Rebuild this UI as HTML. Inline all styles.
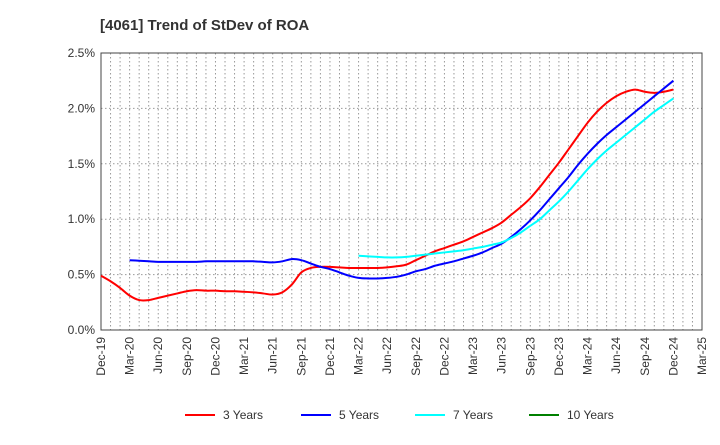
<!DOCTYPE html>
<html><head><meta charset="utf-8"><style>
body{margin:0;background:#fff;font-family:"Liberation Sans",sans-serif}
svg text{font-family:"Liberation Sans",sans-serif}
</style></head><body>
<svg id="chart" width="720" height="440">
<text x="100" y="30" font-size="15" font-weight="bold" fill="#333">[4061]  Trend of StDev of ROA</text>
<g id="grid"></g><g id="axes"></g><g id="series"></g><g id="legend"></g>
</svg>
<script>
const xLabels=["Dec-19","Mar-20","Jun-20","Sep-20","Dec-20","Mar-21","Jun-21","Sep-21","Dec-21","Mar-22","Jun-22","Sep-22","Dec-22","Mar-23","Jun-23","Sep-23","Dec-23","Mar-24","Jun-24","Sep-24","Dec-24","Mar-25"];
const yTicks=[0,0.5,1.0,1.5,2.0,2.5];
const y3=[.49,.44,.38,.31,.27,.27,.29,.31,.33,.35,.36,.355,.355,.35,.35,.345,.34,.33,.32,.34,.41,.52,.56,.57,.57,.565,.56,.56,.56,.56,.565,.575,.59,.63,.67,.71,.74,.77,.80,.84,.88,.92,.97,1.04,1.11,1.19,1.29,1.40,1.51,1.63,1.75,1.87,1.97,2.05,2.11,2.15,2.17,2.15,2.14,2.15,2.17];
const y5=[.63,.625,.62,.615,.615,.615,.615,.615,.62,.62,.62,.62,.62,.62,.615,.61,.62,.64,.63,.60,.57,.55,.52,.49,.47,.465,.465,.47,.48,.50,.53,.55,.58,.60,.62,.645,.67,.70,.74,.78,.84,.91,.99,1.08,1.18,1.28,1.38,1.49,1.59,1.68,1.76,1.83,1.90,1.97,2.04,2.11,2.18,2.25];
const y7=[.67,.665,.66,.655,.655,.66,.67,.68,.69,.70,.71,.72,.735,.75,.77,.79,.83,.88,.94,1.00,1.08,1.16,1.25,1.35,1.45,1.54,1.62,1.69,1.76,1.83,1.90,1.97,2.03,2.09];
const y10=[];
const start3=0,start5=3,start7=27,start10=0;
const L=101,R=702,T=53,B=330,NM=63;
const xs=i=>L+(R-L)*i/NM, ys=v=>B-(B-T)*v/2.5;
const NS="http://www.w3.org/2000/svg";
function mk(p,t,a){const e=document.createElementNS(NS,t);for(const k in a)e.setAttribute(k,a[k]);p.appendChild(e);return e;}
const grid=document.getElementById('grid'),axes=document.getElementById('axes'),ser=document.getElementById('series'),leg=document.getElementById('legend');
for(let m=1;m<NM;m++){const l=mk(grid,'line',{x1:xs(m),x2:xs(m),y1:T,y2:B,stroke:'#999','stroke-dasharray':'1.5,2.5','stroke-width':1});

}
yTicks.forEach(v=>{const l=mk(grid,'line',{x1:L,x2:R,y1:ys(v),y2:ys(v),stroke:'#999','stroke-dasharray':'1.5,2.5','stroke-width':1});


const t=mk(axes,'text',{x:L-6,y:ys(v)+4,'text-anchor':'end','font-size':12,fill:'#333'});t.textContent=v.toFixed(1)+'%';

});
const fr=mk(axes,'rect',{x:L,y:T,width:R-L,height:B-T,fill:'none',stroke:'#444','stroke-width':1});


xLabels.forEach((s,i)=>{const x=xs(i*3);const t=mk(axes,'text',{x:0,y:0,'text-anchor':'end','font-size':12,fill:'#333',transform:`translate(${x+4},${B+7}) rotate(-90)`});t.textContent=s;

});
function path(vals,st){const p=vals.map((v,i)=>[xs(st+i),ys(v)]);if(p.length<2)return '';let d=`M${p[0][0]},${p[0][1]}`;
for(let i=0;i<p.length-1;i++){const p0=p[Math.max(0,i-1)],p1=p[i],p2=p[i+1],p3=p[Math.min(p.length-1,i+2)];
d+=` C${p1[0]+(p2[0]-p0[0])/6},${p1[1]+(p2[1]-p0[1])/6} ${p2[0]-(p3[0]-p1[0])/6},${p2[1]-(p3[1]-p1[1])/6} ${p2[0]},${p2[1]}`;}return d;}
[[y3,start3,'#ff0000','line-3-years'],[y5,start5,'#0000ff','line-5-years'],[y7,start7,'#00ffff','line-7-years'],[y10,start10,'#008000','line-10-years']].forEach(s=>{
const d=path(s[0],s[1]);if(!d)return;const e=mk(ser,'path',{d:d,fill:'none',stroke:s[2],'stroke-width':2});

});
[['3 Years','#ff0000',185],['5 Years','#0000ff',301],['7 Years','#00ffff',415],['10 Years','#008000',529]].forEach(l=>{
const g=mk(leg,'g',{});


mk(g,'line',{x1:l[2],x2:l[2]+30,y1:415,y2:415,stroke:l[1],'stroke-width':2});
const t=mk(g,'text',{x:l[2]+38,y:419,'font-size':12,fill:'#333'});t.textContent=l[0];});
</script>
</body></html>
